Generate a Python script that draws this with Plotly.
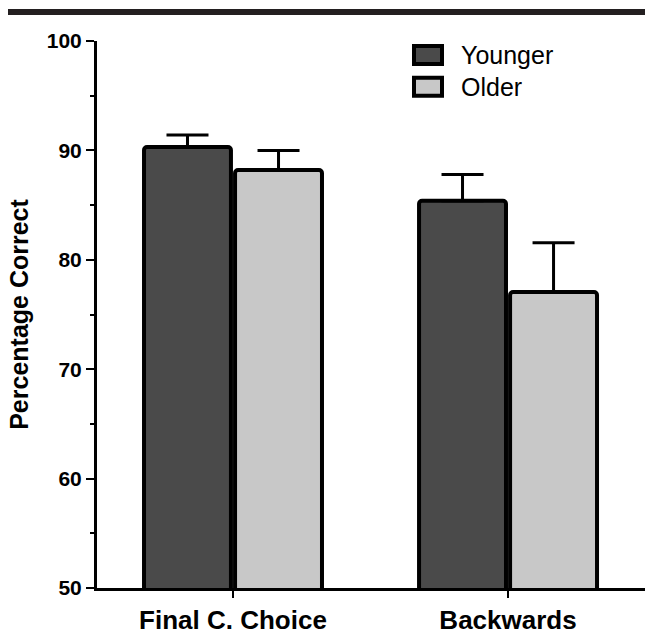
import plotly.graph_objects as go

categories = ["Final C. Choice", "Backwards"]
series_names = ["Younger", "Older"]
younger = [90.3, 85.4]
older = [88.2, 77.05]
younger_err = [1.1, 2.4]
older_err = [1.8, 4.5]
y_ticks = [50, 60, 70, 80, 90, 100]

colors = ["#4a4a4a", "#c8c8c8"]
FONT = "Liberation Sans, Arial, sans-serif"

W, H = 645, 635
L, R, T, B = 97, 0, 41, 45
pw = W - L - R
ph = H - T - B

def px2x(px):
    return (px - L) / pw

def py2y(py):
    return (H - B - py) / ph

fig = go.Figure()
for name, vals, errs, col in zip(series_names, [younger, older], [younger_err, older_err], colors):
    fig.add_trace(go.Bar(
        name=name, x=[0, 1], y=vals,
        marker=dict(color=col, line=dict(color="black", width=4), cornerradius=3),
        error_y=dict(type="data", array=errs, arrayminus=[0] * len(errs), symmetric=False,
                     color="black", thickness=3, width=21),
        showlegend=False,
    ))

fig.update_layout(
    width=W, height=H,
    margin=dict(l=L, r=R, t=T, b=B, pad=0),
    paper_bgcolor="white", plot_bgcolor="white",
    barmode="group", bargap=0.338, bargroupgap=0.045,
    font=dict(family=FONT, color="black"),
)

fig.update_xaxes(
    range=[-0.4945, 1.498], tickmode="array", tickvals=[0, 1], ticktext=categories,
    showline=True, linecolor="black", linewidth=3, ticks="outside", ticklen=7,
    tickwidth=2, tickcolor="black", showgrid=False, zeroline=False,
    tickfont=dict(family=FONT, size=26, color="black", weight="bold"),
)
fig.update_yaxes(
    range=[50, 100], tickmode="array", tickvals=y_ticks,
    showline=True, linecolor="black", linewidth=3, ticks="outside", ticklen=8,
    tickwidth=2, tickcolor="black", showgrid=False, zeroline=False,
    minor=dict(dtick=5, tick0=55, ticks="outside", ticklen=4, tickwidth=2, tickcolor="black"),
    tickfont=dict(family=FONT, size=21, color="black", weight="bold"),
    title=dict(text="Percentage Correct", standoff=12,
               font=dict(family=FONT, size=25, color="black", weight="bold")),
)

# top rule
fig.add_shape(type="rect", xref="paper", yref="paper",
              x0=px2x(8), x1=1.0, y0=py2y(15), y1=py2y(9),
              fillcolor="#231f20", line=dict(width=0), layer="above")

# legend
leg_y = [55, 87]
for name, col, cy in zip(series_names, colors, leg_y):
    fig.add_shape(type="rect", xref="paper", yref="paper",
                  x0=px2x(414), x1=px2x(442), y0=py2y(cy + 9), y1=py2y(cy - 9),
                  fillcolor=col, line=dict(color="black", width=4))
    fig.add_annotation(xref="paper", yref="paper", x=px2x(459), y=py2y(cy),
                       text=name, showarrow=False, xanchor="left", yanchor="middle",
                       font=dict(family=FONT, size=25, color="black"))

fig.write_html("out.html", config={"displayModeBar": False},
               post_script="document.body.style.margin='0px';")
